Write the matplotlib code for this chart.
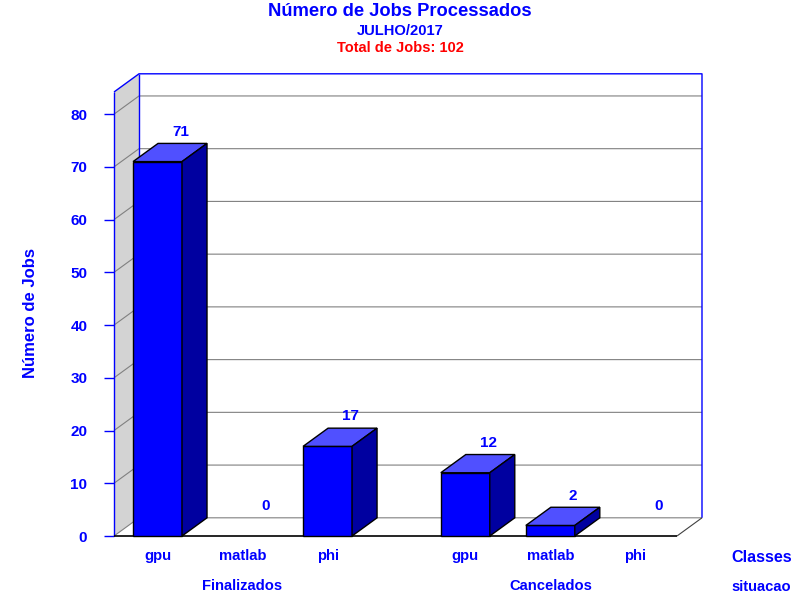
import matplotlib
matplotlib.use('Agg')
import matplotlib.pyplot as plt
from matplotlib.patches import Polygon

plt.rcParams['font.family'] = ['Liberation Sans', 'DejaVu Sans']
plt.rcParams['font.weight'] = 'bold'

classes = ['gpu', 'matlab', 'phi', 'gpu', 'matlab', 'phi']
jobs = [71, 0, 17, 12, 2, 0]
groups = ['Finalizados', 'Cancelados']
yticks = [0, 10, 20, 30, 40, 50, 60, 70, 80]
x_pos = [0, 1, 2, 3.62, 4.62, 5.62]
group_pos = [1, 4.62]

# fake 3d depth, in data units
dx = 0.294
dy = 3.45
w = 0.576
x0, x1 = -0.512, 6.11
ytop = 84.2

fig = plt.figure(figsize=(8, 6), dpi=100)
ax = fig.add_axes([114 / 800, 64 / 600, 563 / 800, 444 / 600])
ax.set_xlim(x0, x1)
ax.set_ylim(0, ytop)
for s in ax.spines.values():
    s.set_visible(False)


def poly(pts, fc, ec, z, lw=1.0):
    ax.add_patch(Polygon(pts, closed=True, facecolor=fc, edgecolor=ec, lw=lw, zorder=z, clip_on=False))


def line(xs, ys, c, z=2, lw=1.0):
    ax.plot(xs, ys, color=c, lw=lw, zorder=z, clip_on=False, solid_capstyle='butt')


# left wall
poly([(x0, 0), (x0 + dx, dy), (x0 + dx, ytop + dy), (x0, ytop)], '#d3d3d3', 'none', 1)

# grid
for t in yticks:
    line([x0, x0 + dx, x1 + dx], [t, t + dy, t + dy], '#808080', lw=0.8)

# box edges
line([x0, x0], [0, ytop], '#0000ff', 3)
line([x0, x0 + dx, x1 + dx, x1 + dx], [ytop, ytop + dy, ytop + dy, dy], '#0000ff', 3)
line([x0 + dx, x0 + dx], [dy, ytop + dy], '#0000ff', 3)
line([x1, x1 + dx], [0, dy], '#404040', 3, lw=0.8)
line([x0, x1], [0, 0], 'black', 3, lw=1.2)

# bars
for x, v in zip(x_pos, jobs):
    l, r = x - w / 2, x + w / 2
    if v > 0:
        poly([(l, 0), (r, 0), (r, v), (l, v)], '#0000ff', 'black', 5)
        poly([(l, v), (l + dx, v + dy), (r + dx, v + dy), (r, v)], '#5050ff', 'black', 5)
        poly([(r, 0), (r + dx, dy), (r + dx, v + dy), (r, v)], '#0000a0', 'black', 5)
    ax.annotate(str(v), (x, v), xytext=(16.5, 21.5), textcoords='offset points', ha='center', va='center',
                color='#0000ff', fontsize=11, zorder=6, annotation_clip=False)

ax.set_yticks(yticks)
ax.tick_params(axis='y', colors='#0000ff', length=7.2, width=1.0, pad=12, labelsize=11)
ax.set_xticks(x_pos)
ax.set_xticklabels(classes)
ax.tick_params(axis='x', colors='#0000ff', length=0, pad=9.5, labelsize=10.7)
ax.set_ylabel('Número de Jobs', color='#0000ff', fontsize=12, fontweight='bold')
ax.yaxis.set_label_coords(-0.135, 0.502)

for x, g in zip(group_pos, groups):
    ax.annotate(g, (x, 0), xytext=(0, -36), textcoords='offset points', ha='center', va='center',
                color='#0000ff', fontsize=10.6, annotation_clip=False)

fig.text(0.5, 1 - 12 / 600, 'Número de Jobs Processados', color='#0000ff', fontsize=13.2, ha='center', va='center')
fig.text(0.5, 1 - 31 / 600, 'JULHO/2017', color='#0000ff', fontsize=10.6, ha='center', va='center')
fig.text(0.5, 1 - 48 / 600, 'Total de Jobs: 102', color='#ff0000', fontsize=10.5, ha='center', va='center')
fig.text(731 / 800, 1 - 557 / 600, 'Classes', color='#0000ff', fontsize=11.6, ha='left', va='center')
fig.text(731 / 800, 1 - 587 / 600, 'situacao', color='#0000ff', fontsize=10.6, ha='left', va='center')

fig.savefig('out.png', dpi=100)
